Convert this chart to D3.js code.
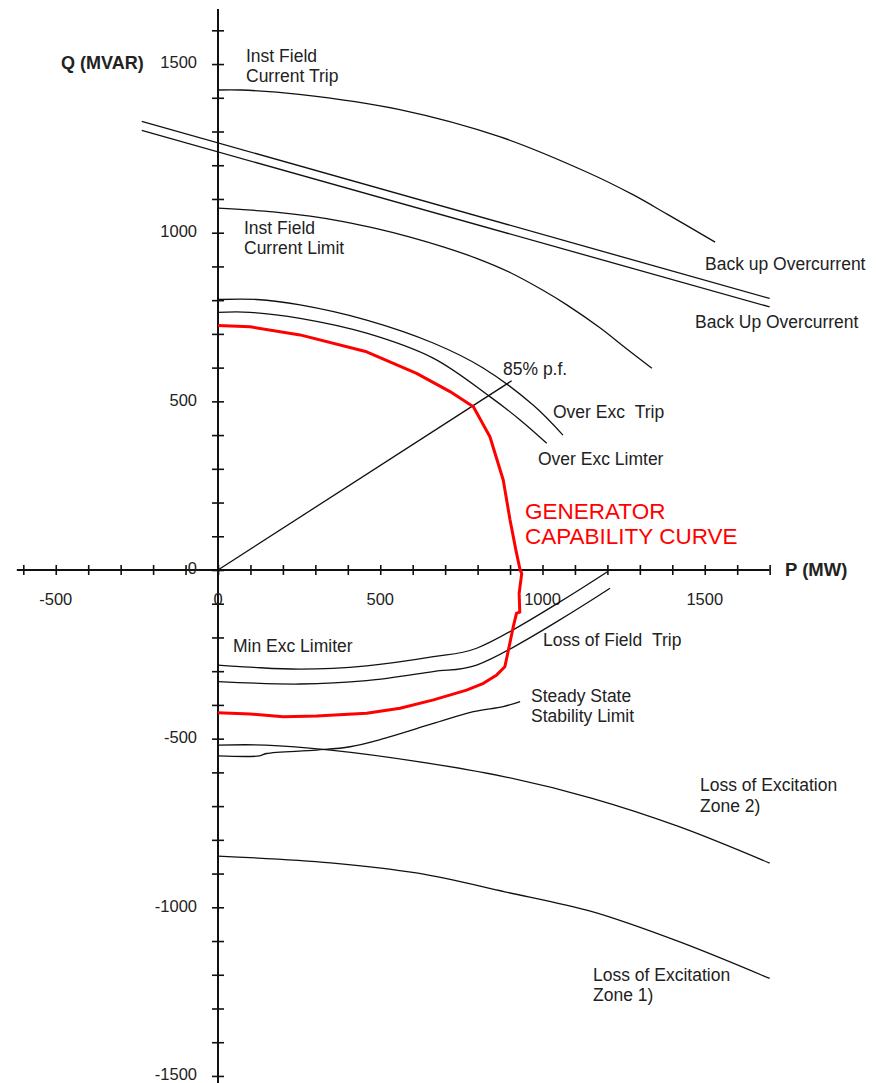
<!DOCTYPE html>
<html><head><meta charset="utf-8">
<script src="https://cdn.jsdelivr.net/npm/d3@7"></script>
<style>
html,body{margin:0;padding:0;background:#fff;}
text{font-family:"Liberation Sans",Arial,sans-serif;}
</style></head>
<body>
<svg id="c" width="876" height="1083"></svg>
<script>
// ---- data (P in MW, Q in MVAR) ----
const xTickLabels = [-500, 0, 500, 1000, 1500];
const yTickLabels = [-1500, -1000, -500, 0, 500, 1000, 1500];
const xMinorTicks = d3.range(-600, 1701, 100);
const yMinorTicks = d3.range(-1500, 1601, 100);

const instTripP = [0, 70, 250, 560, 870, 1136, 1280, 1384, 1532];
const instTripQ = [1423, 1423, 1410, 1365, 1284, 1180, 1112, 1055, 972];

const backupUpperP = [-235, 1700];
const backupUpperQ = [1330, 805];
const backupLowerP = [-235, 1700];
const backupLowerQ = [1303, 780];

const instLimitP = [0, 68, 170, 284, 386, 489, 592, 694, 797, 900, 1000, 1075, 1177, 1260, 1337];
const instLimitQ = [1073, 1069, 1062, 1049, 1033, 1012, 987, 958, 924, 882, 830, 786, 718, 655, 598];

const overTripP = [0, 119, 253, 458, 663, 817, 971, 1063];
const overTripQ = [802, 802, 786, 741, 673, 599, 489, 400];

const overLimP = [0, 99, 253, 458, 663, 838, 931, 1013];
const overLimQ = [764, 764, 746, 702, 628, 514, 445, 376];

const pfP = [0, 905];
const pfQ = [0, 561];

const capP = [0, 99, 253, 458, 612, 715, 787, 838, 879, 900, 918, 931, 936, 928, 930, 920, 910, 895, 884, 859, 818, 766, 664, 561, 458, 304, 201, 99, 0];
const capQ = [725, 721, 697, 647, 583, 529, 484, 395, 267, 148, 59, 0, -10, -69, -125, -128, -168, -237, -287, -311, -336, -356, -385, -410, -425, -433, -435, -427, -423];

const minExcP = [0, 99, 253, 458, 664, 797, 1200];
const minExcQ = [-282, -288, -294, -284, -257, -232, -5];

const lofTripP = [0, 253, 458, 663, 797, 1208];
const lofTripQ = [-331, -338, -328, -301, -282, -54];

const sssP = [0, 128, 149, 304, 407, 510, 664, 787, 879, 931];
const sssQ = [-551, -551, -544, -534, -524, -500, -455, -420, -405, -390];

const zone2P = [0, 146, 347, 616, 884, 1153, 1421, 1700];
const zone2Q = [-519, -519, -534, -568, -613, -677, -761, -869];

const zone1P = [0, 347, 616, 884, 1153, 1421, 1700];
const zone1Q = [-848, -868, -899, -954, -1013, -1102, -1211];

const xAxisExtent = [-620, 1700];
const yAxisExtent = [-1530, 1663];

// ---- scales ----
const x = d3.scaleLinear().domain([0, 1000]).range([218, 542.5]);
const y = d3.scaleLinear().domain([0, 1000]).range([570, 232.7]);

const svg = d3.select("#c");
const zip = (P, Q) => P.map((p, i) => [p, Q[i]]);

// axes
const gx = svg.append("g").attr("transform", `translate(0,${y(0)})`)
  .call(d3.axisBottom(x).tickValues(xMinorTicks).tickSize(5).tickFormat("").tickSizeOuter(0));
gx.select(".domain").remove();
gx.selectAll(".tick line").attr("y1", -5).attr("y2", 5).attr("stroke", "#111").attr("stroke-width", 1.6);
svg.append("line").attr("x1", x(xAxisExtent[0])).attr("x2", x(xAxisExtent[1]))
  .attr("y1", y(0)).attr("y2", y(0)).attr("stroke", "#111").attr("stroke-width", 2);

const gy = svg.append("g").attr("transform", `translate(${x(0)},0)`)
  .call(d3.axisLeft(y).tickValues(yMinorTicks).tickSize(6).tickFormat("").tickSizeOuter(0));
gy.select(".domain").remove();
gy.selectAll(".tick line").attr("x1", -6).attr("x2", 6).attr("stroke", "#111").attr("stroke-width", 1.6);
svg.append("line").attr("x1", x(0)).attr("x2", x(0))
  .attr("y1", y(yAxisExtent[0])).attr("y2", y(yAxisExtent[1])).attr("stroke", "#111").attr("stroke-width", 2);

// tick labels
svg.selectAll(".xl").data(xTickLabels).enter().append("text")
  .attr("x", d => x(d)).attr("y", y(0) + 31).attr("text-anchor", "middle")
  .attr("dominant-baseline", "middle").attr("font-size", 16.5).attr("fill", "#222").text(d => d);
svg.selectAll(".yl").data(yTickLabels).enter().append("text")
  .attr("x", x(0) - 21).attr("y", d => y(d)).attr("text-anchor", "end")
  .attr("dominant-baseline", "middle").attr("font-size", 16.5).attr("fill", "#222").text(d => d);

svg.append("text").attr("x", 61).attr("y", y(1500)).attr("dominant-baseline", "middle")
  .attr("font-size", 18).attr("font-weight", "bold").attr("fill", "#222").text("Q (MVAR)");
svg.append("text").attr("x", 785).attr("y", y(0) + 1).attr("dominant-baseline", "middle")
  .attr("font-size", 18.5).attr("font-weight", "bold").attr("fill", "#222").text("P (MW)");

// curves
const smooth = d3.line().x(d => x(d[0])).y(d => y(d[1])).curve(d3.curveCatmullRom.alpha(0.5));
const straight = d3.line().x(d => x(d[0])).y(d => y(d[1]));

const blackCurves = [
  [instTripP, instTripQ], [instLimitP, instLimitQ], [overTripP, overTripQ], [overLimP, overLimQ],
  [minExcP, minExcQ], [lofTripP, lofTripQ], [sssP, sssQ], [zone2P, zone2Q], [zone1P, zone1Q]
];
blackCurves.forEach(([P, Q]) => {
  svg.append("path").attr("d", smooth(zip(P, Q))).attr("fill", "none")
    .attr("stroke", "#111").attr("stroke-width", 1.3);
});
[[backupUpperP, backupUpperQ], [backupLowerP, backupLowerQ], [pfP, pfQ]].forEach(([P, Q]) => {
  svg.append("path").attr("d", straight(zip(P, Q))).attr("fill", "none")
    .attr("stroke", "#111").attr("stroke-width", 1.3);
});
svg.append("path").attr("d", straight(zip(capP, capQ))).attr("fill", "none")
  .attr("stroke", "#ff0000").attr("stroke-width", 3).attr("stroke-linejoin", "round");

// labels
const labels = [
  [246, 57, "Inst Field"], [246, 77, "Current Trip"],
  [244, 229, "Inst Field"], [244, 249, "Current Limit"],
  [705, 265, "Back up Overcurrent"], [695, 323, "Back Up Overcurrent"],
  [503, 370, "85% p.f."],
  [553, 413, "Over Exc\u00a0\u00a0Trip"], [538, 460, "Over Exc Limter"],
  [233, 647, "Min Exc Limiter"], [543, 641, "Loss of Field\u00a0\u00a0Trip"],
  [531, 697, "Steady State"], [531, 717, "Stability Limit"],
  [700, 786, "Loss of Excitation"], [700, 807, "Zone 2)"],
  [593, 976, "Loss of Excitation"], [593, 996, "Zone 1)"]
];
svg.selectAll(".lbl").data(labels).enter().append("text")
  .attr("x", d => d[0]).attr("y", d => d[1]).attr("dominant-baseline", "middle")
  .attr("font-size", 17.5).attr("fill", "#222").text(d => d[2]);

svg.append("text").attr("x", 525).attr("y", 513).attr("dominant-baseline", "middle")
  .attr("font-size", 22.5).attr("fill", "#ff0000").text("GENERATOR");
svg.append("text").attr("x", 525).attr("y", 538).attr("dominant-baseline", "middle")
  .attr("font-size", 22.5).attr("fill", "#ff0000").text("CAPABILITY CURVE");
</script>
</body></html>
